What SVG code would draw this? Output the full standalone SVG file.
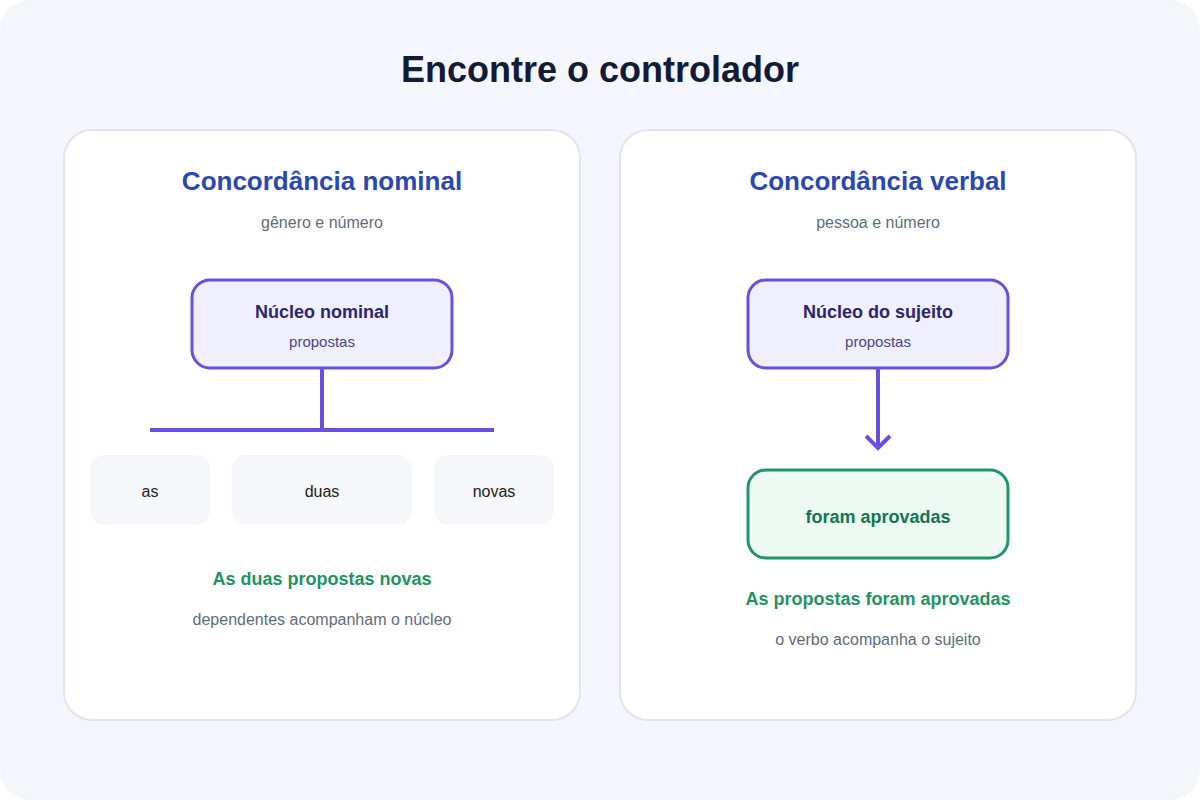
<svg xmlns="http://www.w3.org/2000/svg" width="1200" height="800" viewBox="0 0 1200 800">
<style>
text{font-family:"Liberation Sans",Arial,sans-serif;text-anchor:middle}
.panel{fill:#fff;stroke:#e0e3f5;stroke-width:2}
.h{font-size:26px;font-weight:bold;fill:#2a48b0}
.sub{font-size:16px;fill:#5f6b7f}
.core{fill:#efefff;stroke:#6550e0;stroke-width:3}
.ct{font-size:18px;font-weight:bold;fill:#2c2670}
.cs{font-size:15px;fill:#4a4690}
.dep{fill:#f5f7fb}
.dt{font-size:16px;fill:#222}
.g{font-size:18px;font-weight:bold;fill:#1f9363}
.line{stroke:#6550e0;stroke-width:4;fill:none}
</style>
<rect x="0" y="0" width="1200" height="800" rx="30" fill="#f5f6fb"/>
<text x="600" y="82" style="font-size:36px;font-weight:bold;fill:#141b38">Encontre o controlador</text>
<g id="left-panel">
<rect class="panel" x="64" y="130" width="516" height="590" rx="28"/>
<text class="h" x="322" y="190">Concordância nominal</text>
<text class="sub" x="322" y="228">gênero e número</text>
</g>
<g id="right-panel">
<rect class="panel" x="620" y="130" width="516" height="590" rx="28"/>
<text class="h" x="878" y="190">Concordância verbal</text>
<text class="sub" x="878" y="228">pessoa e número</text>
</g>
<g id="connectors">
<path class="line" d="M322 368V430M150 430H494"/>
<path class="line" d="M878 368V448M866 436L878 448L890 436"/>
</g>
<g id="nucleo-nominal">
<rect class="core" x="192" y="280" width="260" height="88" rx="18"/>
<text class="ct" x="322" y="318">Núcleo nominal</text>
<text class="cs" x="322" y="347">propostas</text>
</g>
<g id="dep-as"><rect class="dep" x="90" y="455" width="120" height="70" rx="14"/><text class="dt" x="150" y="497">as</text></g>
<g id="dep-duas"><rect class="dep" x="232" y="455" width="180" height="70" rx="14"/><text class="dt" x="322" y="497">duas</text></g>
<g id="dep-novas"><rect class="dep" x="434" y="455" width="120" height="70" rx="14"/><text class="dt" x="494" y="497">novas</text></g>
<text class="g" x="322" y="585">As duas propostas novas</text>
<text class="sub" x="322" y="625">dependentes acompanham o núcleo</text>
<g id="nucleo-sujeito">
<rect class="core" x="748" y="280" width="260" height="88" rx="18"/>
<text class="ct" x="878" y="318">Núcleo do sujeito</text>
<text class="cs" x="878" y="347">propostas</text>
</g>
<g id="verbo">
<rect x="748" y="470" width="260" height="88" rx="18" fill="#edfaf4" stroke="#21946a" stroke-width="3"/>
<text x="878" y="523" style="font-size:18px;font-weight:bold;fill:#137552">foram aprovadas</text>
</g>
<text class="g" x="878" y="605">As propostas foram aprovadas</text>
<text class="sub" x="878" y="645">o verbo acompanha o sujeito</text>
</svg>
